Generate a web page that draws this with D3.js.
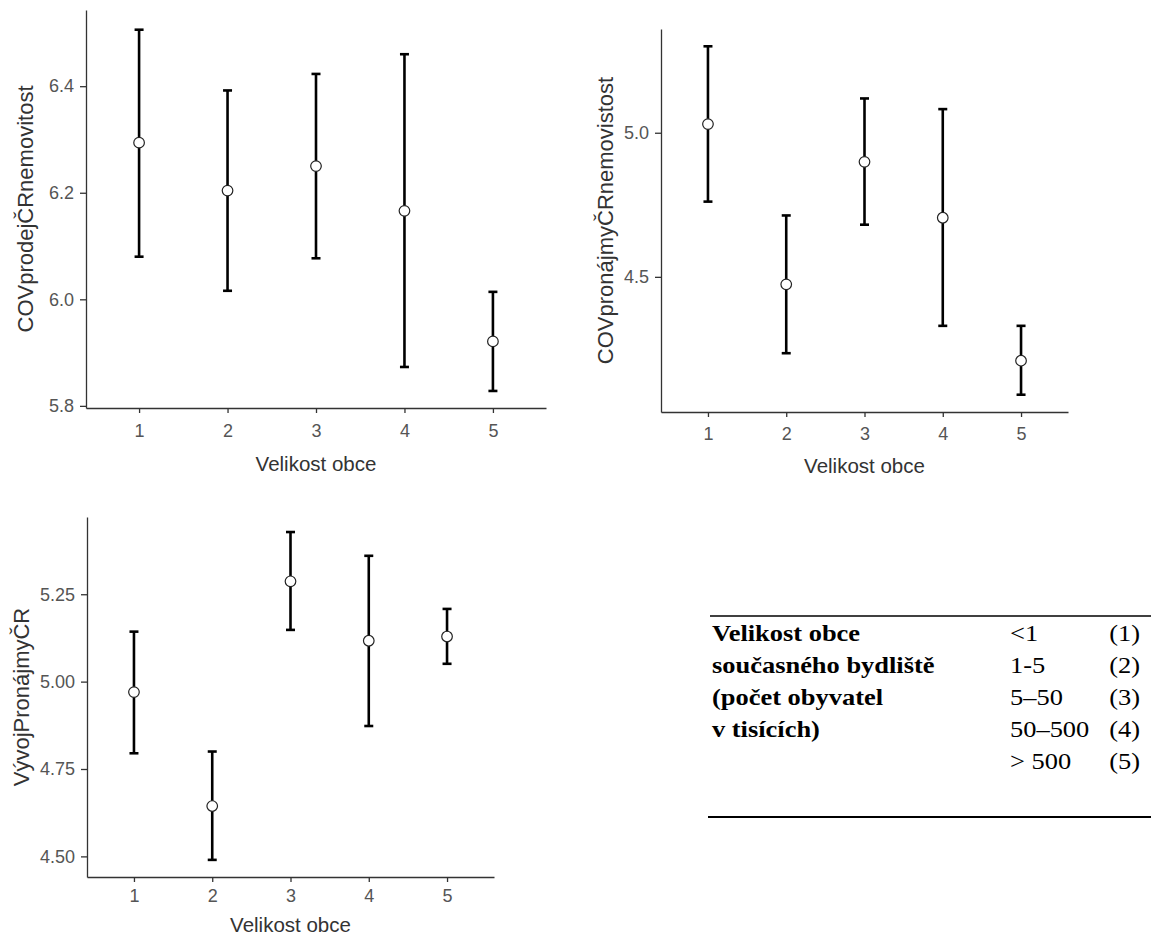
<!DOCTYPE html>
<html>
<head>
<meta charset="utf-8">
<script src="https://cdn.jsdelivr.net/npm/d3@7"></script>
<style>
body { margin: 0; background: #fff; }
svg text { font-family: "Liberation Sans", Arial, sans-serif; }
.tbl text { font-family: "Liberation Serif", "Times New Roman", serif; fill: #000; }
</style>
</head>
<body>
<svg id="chart" width="1151" height="937"></svg>
<script>
// category = Velikost obce
var categories = [1, 2, 3, 4, 5];

var prodejMean = [6.294, 6.204, 6.250, 6.166, 5.921];
var prodejLow  = [6.080, 6.016, 6.077, 5.873, 5.828];
var prodejHigh = [6.506, 6.392, 6.423, 6.460, 6.014];

var pronajemMean = [5.030, 4.474, 4.899, 4.705, 4.209];
var pronajemLow  = [4.761, 4.235, 4.681, 4.330, 4.091];
var pronajemHigh = [5.300, 4.713, 5.119, 5.082, 4.330];

var vyvojMean = [4.970, 4.644, 5.287, 5.117, 5.129];
var vyvojLow  = [4.795, 4.490, 5.148, 4.873, 5.051];
var vyvojHigh = [5.143, 4.800, 5.428, 5.360, 5.208];

var prodejTicks = [5.8, 6.0, 6.2, 6.4];
var pronajemTicks = [4.5, 5.0];
var vyvojTicks = [4.50, 4.75, 5.00, 5.25];

var tableLeft  = ['Velikost obce', 'současného bydliště', '(počet obyvatel', 'v tisících)', ''];
var tableRange = ['<1', '1-5', '5–50', '50–500', '> 500'];
var tableCode  = ['(1)', '(2)', '(3)', '(4)', '(5)'];

var svg = d3.select('#chart');

var panels = [
	{ title: 'COVprodejČRnemovitost', mean: prodejMean, low: prodejLow, high: prodejHigh,
	  ticks: prodejTicks, fmt: '.1f', domain: [5.796, 6.543],
	  x0: 86, x1: 546, y0: 10, y1: 408, labOff: 61, pad: 11, titleOff: 63 },
	{ title: 'COVpronájmyČRnemovistost', mean: pronajemMean, low: pronajemLow, high: pronajemHigh,
	  ticks: pronajemTicks, fmt: '.1f', domain: [4.031, 5.36],
	  x0: 661, x1: 1068, y0: 29, y1: 412, labOff: 56, pad: 10, titleOff: 61 },
	{ title: 'VývojPronájmyČR', mean: vyvojMean, low: vyvojLow, high: vyvojHigh,
	  ticks: vyvojTicks, fmt: '.2f', domain: [4.441, 5.471],
	  x0: 87, x1: 494, y0: 517, y1: 877, labOff: 66, pad: 7, titleOff: 55 }
];

panels.forEach(function (p) {
	var x = d3.scaleLinear().domain([0.4, 5.6]).range([p.x0, p.x1]);
	var y = d3.scaleLinear().domain(p.domain).range([p.y1, p.y0]);
	var g = svg.append('g');

	var xAxis = g.append('g')
		.attr('transform', 'translate(0,' + p.y1 + ')')
		.call(d3.axisBottom(x).tickValues(categories).tickFormat(d3.format('d'))
			.tickSizeInner(5).tickSizeOuter(0).tickPadding(p.pad));
	var yAxis = g.append('g')
		.attr('transform', 'translate(' + p.x0 + ',0)')
		.call(d3.axisLeft(y).tickValues(p.ticks).tickFormat(d3.format(p.fmt))
			.tickSizeInner(6).tickSizeOuter(0).tickPadding(6));

	[xAxis, yAxis].forEach(function (a) {
		a.select('.domain').attr('stroke', '#333').attr('stroke-width', 1.3);
		a.selectAll('.tick line').attr('stroke', '#333').attr('stroke-width', 1.3);
		a.selectAll('.tick text').attr('fill', '#555').attr('font-size', '18px');
	});

	g.append('text')
		.attr('x', (p.x0 + p.x1) / 2)
		.attr('y', p.y1 + p.titleOff)
		.attr('text-anchor', 'middle')
		.attr('fill', '#333')
		.attr('font-size', '20.5px')
		.text('Velikost obce');

	g.append('text')
		.attr('transform', 'translate(' + (p.x0 - p.labOff) + ',' + ((p.y0 + p.y1) / 2) + ') rotate(-90)')
		.attr('text-anchor', 'middle')
		.attr('dy', '0.35em')
		.attr('fill', '#333')
		.attr('font-size', '22px')
		.text(p.title);

	var rows = categories.map(function (c, i) {
		return { c: c, m: p.mean[i], lo: p.low[i], hi: p.high[i] };
	});

	var bars = g.selectAll('.bar').data(rows).enter().append('g').attr('class', 'bar');
	bars.append('line')
		.attr('x1', function (d) { return x(d.c); })
		.attr('x2', function (d) { return x(d.c); })
		.attr('y1', function (d) { return y(d.lo); })
		.attr('y2', function (d) { return y(d.hi); });
	bars.append('line')
		.attr('x1', function (d) { return x(d.c) - 4.5; })
		.attr('x2', function (d) { return x(d.c) + 4.5; })
		.attr('y1', function (d) { return y(d.hi); })
		.attr('y2', function (d) { return y(d.hi); });
	bars.append('line')
		.attr('x1', function (d) { return x(d.c) - 4.5; })
		.attr('x2', function (d) { return x(d.c) + 4.5; })
		.attr('y1', function (d) { return y(d.lo); })
		.attr('y2', function (d) { return y(d.lo); });
	bars.selectAll('line').attr('stroke', '#000').attr('stroke-width', 2.6);

	bars.append('circle')
		.attr('cx', function (d) { return x(d.c); })
		.attr('cy', function (d) { return y(d.m); })
		.attr('r', 5.3)
		.attr('fill', '#fff')
		.attr('stroke', '#222')
		.attr('stroke-width', 1.2);
});

// legend table
var tbl = svg.append('g').attr('class', 'tbl');
tbl.append('line').attr('x1', 710).attr('x2', 1151).attr('y1', 616).attr('y2', 616)
	.attr('stroke', '#000').attr('stroke-width', 1.5);
tbl.append('line').attr('x1', 708).attr('x2', 1151).attr('y1', 817).attr('y2', 817)
	.attr('stroke', '#000').attr('stroke-width', 2);

var rowY = d3.scaleLinear().domain([0, 4]).range([641, 769]);
var sx = 1.15;

tableLeft.forEach(function (t, i) {
	tbl.append('text')
		.attr('transform', 'translate(712,' + rowY(i) + ') scale(' + sx + ',1)')
		.attr('font-size', '23px').attr('font-weight', 'bold')
		.text(t);
	tbl.append('text')
		.attr('transform', 'translate(1010,' + rowY(i) + ') scale(' + sx + ',1)')
		.attr('font-size', '23px')
		.text(tableRange[i]);
	tbl.append('text')
		.attr('transform', 'translate(1140,' + rowY(i) + ') scale(' + sx + ',1)')
		.attr('font-size', '23px').attr('text-anchor', 'end')
		.text(tableCode[i]);
});
</script>
</body>
</html>
